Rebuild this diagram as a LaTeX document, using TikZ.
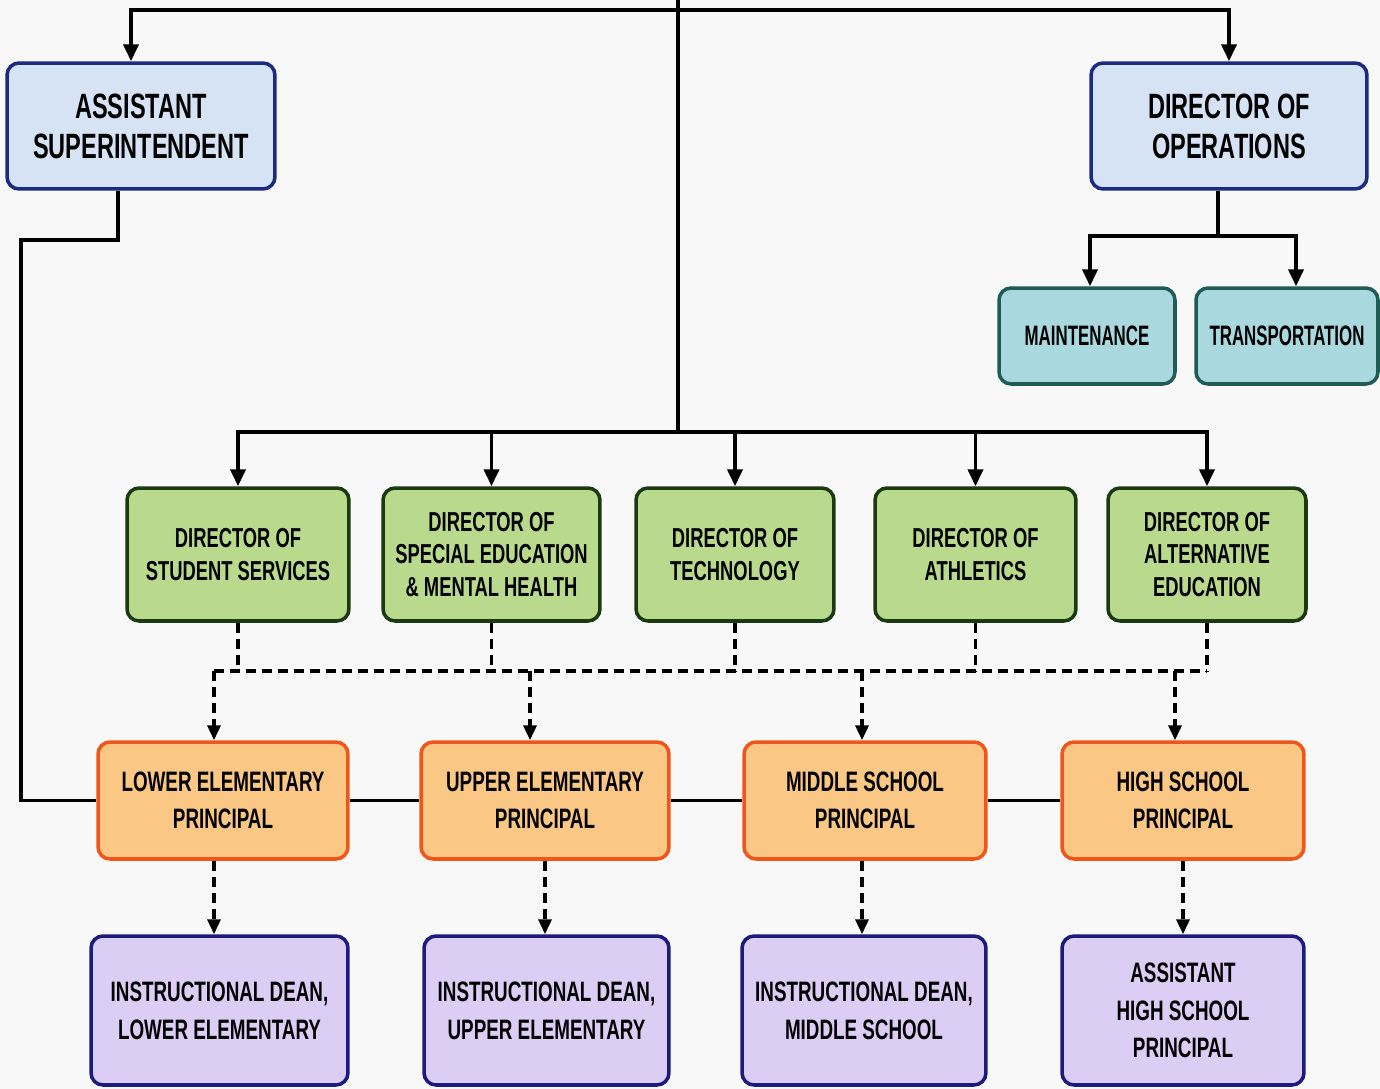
\documentclass[tikz,border=0pt]{standalone}
\usepackage{tikz}
\usepackage{xcolor}
\usepackage{fontspec}
\setmainfont{Liberation Sans}[FakeStretch=0.67]
\newfontfamily\narrowsans{Liberation Sans}[FakeStretch=0.6]
\usetikzlibrary{arrows.meta, positioning, calc}
\definecolor{pageGray}{HTML}{F8F8F8}
\definecolor{adminBlue}{HTML}{D5E3F5}
\definecolor{adminNavy}{HTML}{1C2B7F}
\definecolor{opsTeal}{HTML}{A9D9DE}
\definecolor{opsTealDark}{HTML}{1F5C55}
\definecolor{dirGreen}{HTML}{B9DA8C}
\definecolor{dirGreenDark}{HTML}{1C3A12}
\definecolor{prinOrange}{HTML}{FAC784}
\definecolor{prinOrangeDark}{HTML}{F0561C}
\definecolor{deanPurple}{HTML}{DCCDF4}
\definecolor{deanNavy}{HTML}{1B1B7E}
\tikzset{
  orgbox/.style={draw, rounded corners=0.24cm, line width=2pt, align=center, inner sep=0pt},
  adminbox/.style={orgbox, fill=adminBlue, draw=adminNavy, minimum height=2.52cm, font=\fontsize{20}{22.7}\selectfont\bfseries},
  opsbox/.style={orgbox, fill=opsTeal, draw=opsTealDark, minimum height=1.92cm, font=\narrowsans\fontsize{16}{19}\selectfont\bfseries},
  dirbox/.style={orgbox, fill=dirGreen, draw=dirGreenDark, minimum height=2.66cm, font=\fontsize{15.6}{18.7}\selectfont\bfseries},
  prinbox/.style={orgbox, fill=prinOrange, draw=prinOrangeDark, minimum height=2.34cm, font=\fontsize{16}{21}\selectfont\bfseries},
  deanbox/.style={orgbox, fill=deanPurple, draw=deanNavy, minimum height=2.98cm, font=\fontsize{16}{21.5}\selectfont\bfseries},
  conn/.style={line width=2.2pt, black},
  arr/.style={conn, -{Triangle[length=0.34cm, width=0.3cm]}},
  dsh/.style={line width=2pt, black, dash pattern=on 0.2cm off 0.12cm},
  darr/.style={dsh, -{Triangle[length=0.3cm, width=0.26cm]}}
}
\begin{document}
\begin{tikzpicture}[x=0.02cm, y=-0.02cm]
  \fill[pageGray] (0,0) rectangle (1380,1089);
  \useasboundingbox (0,0) rectangle (1380,1089);

  % top level
  \node[adminbox, minimum width=5.36cm] (asup) at (141,126) {ASSISTANT\\SUPERINTENDENT};
  \node[adminbox, minimum width=5.52cm] (dops) at (1229,126) {DIRECTOR OF\\OPERATIONS};
  \node[opsbox, minimum width=3.52cm] (maint) at (1087,336) {MAINTENANCE};
  \node[opsbox, minimum width=3.64cm] (trans) at (1287,336) {TRANSPORTATION};

  % directors
  \node[dirbox, minimum width=4.44cm] (dss) at (238,554.5) {DIRECTOR OF\\STUDENT SERVICES};
  \node[dirbox, minimum width=4.34cm] (dsp) at (491.5,554.5) {DIRECTOR OF\\SPECIAL EDUCATION\\\& MENTAL HEALTH};
  \node[dirbox, minimum width=3.96cm] (dtech) at (735,554.5) {DIRECTOR OF\\TECHNOLOGY};
  \node[dirbox, minimum width=4.02cm] (dath) at (975.5,554.5) {DIRECTOR OF\\ATHLETICS};
  \node[dirbox, minimum width=3.96cm] (dalt) at (1207,554.5) {DIRECTOR OF\\ALTERNATIVE\\EDUCATION};

  % principals
  \node[prinbox, minimum width=5.0cm] (plow) at (223,800.5) {LOWER ELEMENTARY\\PRINCIPAL};
  \node[prinbox, minimum width=4.96cm] (pup) at (545,800.5) {UPPER ELEMENTARY\\PRINCIPAL};
  \node[prinbox, minimum width=4.84cm] (pmid) at (865,800.5) {MIDDLE SCHOOL\\PRINCIPAL};
  \node[prinbox, minimum width=4.84cm] (phigh) at (1183,800.5) {HIGH SCHOOL\\PRINCIPAL};

  % deans
  \node[deanbox, minimum width=5.14cm] (ilow) at (219.5,1010.5) {INSTRUCTIONAL DEAN,\\LOWER ELEMENTARY};
  \node[deanbox, minimum width=4.9cm] (iup) at (546.5,1010.5) {INSTRUCTIONAL DEAN,\\UPPER ELEMENTARY};
  \node[deanbox, minimum width=4.88cm] (imid) at (864,1010.5) {INSTRUCTIONAL DEAN,\\MIDDLE SCHOOL};
  \node[deanbox, minimum width=4.84cm] (ahs) at (1183,1010.5) {ASSISTANT\\HIGH SCHOOL\\PRINCIPAL};

  % solid reporting lines
  \coordinate (top) at (678,0);
  \coordinate (topbar) at (678,10);
  \coordinate (dirbar) at (678,432);
  \coordinate (opsbar) at (1218,236);
  \coordinate (leftbend) at (21,240);
  \draw[conn] (top) -- (dirbar);
  \draw[arr] (topbar) -| ([xshift=-0.2cm]asup.north);
  \draw[arr] (topbar) -| (dops.north);
  \foreach \n in {dss,dsp,dtech,dath,dalt}
    \draw[arr] (dirbar) -| (\n.north);
  \draw[conn] (dops.south -| opsbar) -- (opsbar);
  \draw[arr] (opsbar) -| ([xshift=0.06cm]maint.north);
  \draw[arr] (opsbar) -| ([xshift=0.18cm]trans.north);
  \draw[conn] ([xshift=-0.46cm]asup.south) |- (leftbend) |- (plow.west);
  \draw[conn] (plow) -- (pup) -- (pmid) -- (phigh);

  % dashed lines
  \coordinate (dashbar) at (678,671);
  \foreach \n in {dss,dsp,dtech,dath,dalt}
    \draw[dsh] (\n.south) -- (\n.south |- dashbar);
  \draw[dsh] ([xshift=-0.18cm]plow.north |- dashbar) -- (dalt.south |- dashbar);
  \draw[darr] ([xshift=-0.18cm]plow.north |- dashbar) -- ([xshift=-0.18cm]plow.north);
  \draw[darr] ([xshift=-0.3cm]pup.north |- dashbar) -- ([xshift=-0.3cm]pup.north);
  \draw[darr] ([xshift=-0.06cm]pmid.north |- dashbar) -- ([xshift=-0.06cm]pmid.north);
  \draw[darr] ([xshift=-0.16cm]phigh.north |- dashbar) -- ([xshift=-0.16cm]phigh.north);
  \draw[darr] ([xshift=-0.18cm]plow.south) -- ([xshift=-0.18cm]plow.south |- ilow.north);
  \draw[darr] (pup.south) -- (pup.south |- iup.north);
  \draw[darr] ([xshift=-0.06cm]pmid.south) -- ([xshift=-0.06cm]pmid.south |- imid.north);
  \draw[darr] (phigh.south) -- (phigh.south |- ahs.north);
\end{tikzpicture}
\end{document}
